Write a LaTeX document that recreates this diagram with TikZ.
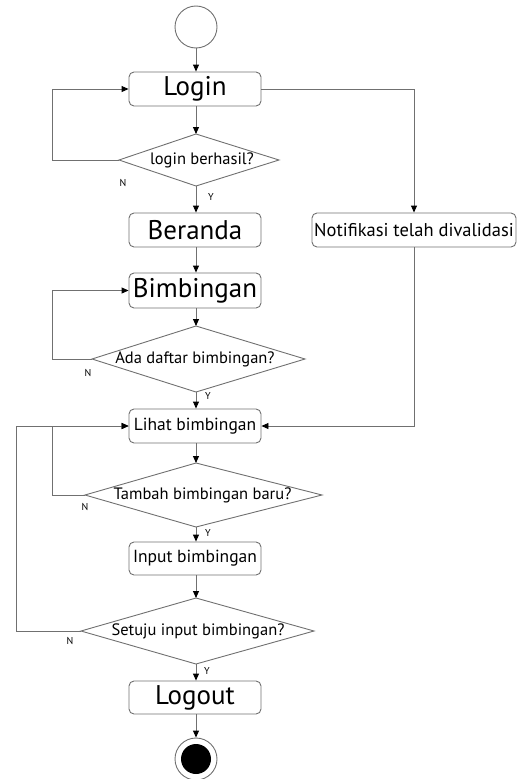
\documentclass[tikz,border=0pt]{standalone}
\usepackage{fontspec}
\setmainfont{PT Sans}
\usetikzlibrary{arrows.meta}
\definecolor{ln}{HTML}{707070}
\tikzset{
  box/.style={draw=ln, line width=0.9pt, rounded corners=5pt, minimum height=34pt, inner sep=1pt},
  mainbox/.style={box, minimum width=132pt},
  big/.style={font=\fontsize{27}{27}\selectfont},
  mid/.style={font=\fontsize{17.5}{17.5}\selectfont},
  dtext/.style={font=\fontsize{16.5}{16.5}\selectfont, inner sep=0pt},
  yn/.style={font=\fontsize{10}{10}\selectfont, inner sep=0pt},
  dia/.style={draw=ln, line width=0.9pt, line join=miter},
  conn/.style={draw=ln, line width=0.9pt, -{Triangle[length=7pt,width=6pt,color=black]}}
}
\begin{document}
\begin{tikzpicture}[x=1pt,y=-1pt]
\useasboundingbox (0,0) rectangle (527,779);
% start
\node[draw=ln, line width=0.9pt, circle, minimum size=42pt, inner sep=0pt] (start) at (196,27) {};
% boxes
\node[mainbox, big] (login) at (195,89) {Login};
\node[mainbox, big] (beranda) at (195,230) {Beranda};
\node[box, font=\fontsize{18.5}{18.5}\selectfont, minimum width=204pt] (notif) at (414,230) {Notifikasi telah divalidasi};
\node[mainbox, big, minimum height=35pt] (bimb) at (195,290.5) {Bimbingan};
\node[mainbox, mid] (lihat) at (195,426) {Lihat bimbingan};
\node[mainbox, mid, minimum height=33pt] (input) at (195,558.5) {Input bimbingan};
\node[mainbox, big, minimum height=33pt] (logout) at (195,697.5) {Logout};
% end
\node[draw=ln, line width=0.9pt, circle, minimum size=42pt, inner sep=0pt] (endo) at (196,759) {};
\node[fill=black, circle, minimum size=30pt, inner sep=0pt] (endi) at (196,759) {};
% diamonds
\coordinate (d1t) at (196,134); \coordinate (d1l) at (119,160); \coordinate (d1r) at (279,160); \coordinate (d1b) at (196,186);
\draw[dia] (d1t) -- (d1r) -- (d1b) -- (d1l) -- cycle;
\node[dtext] (d1) at (202,160) {login berhasil?};
\coordinate (d2t) at (196,326); \coordinate (d2l) at (92,359); \coordinate (d2r) at (305,359); \coordinate (d2b) at (196,392);
\draw[dia] (d2t) -- (d2r) -- (d2b) -- (d2l) -- cycle;
\node[dtext] (d2) at (195,359) {Ada daftar bimbingan?};
\coordinate (d3t) at (196,463); \coordinate (d3l) at (85,495); \coordinate (d3r) at (322,495); \coordinate (d3b) at (196,527);
\draw[dia] (d3t) -- (d3r) -- (d3b) -- (d3l) -- cycle;
\node[dtext] (d3) at (202.5,495) {Tambah bimbingan baru?};
\coordinate (d4t) at (196,598); \coordinate (d4l) at (81,631); \coordinate (d4r) at (314,631); \coordinate (d4b) at (196,664);
\draw[dia] (d4t) -- (d4r) -- (d4b) -- (d4l) -- cycle;
\node[dtext] (d4) at (198,631) {Setuju input bimbingan?};
% Y/N labels
\node[yn] (n1) at (123,183) {N}; \node[yn] (y1) at (211,197) {Y};
\node[yn] (n2) at (88,373) {N}; \node[yn] (y2) at (208,396) {Y};
\node[yn] (n3) at (85,507) {N}; \node[yn] (y3) at (208,533) {Y};
\node[yn] (n4) at (70,641) {N}; \node[yn] (y4) at (207,671) {Y};
% loop corners
\coordinate (c1) at (52,160); \coordinate (c2) at (52,359); \coordinate (c3) at (52,495); \coordinate (c4) at (16,631);
% connectors
\draw[conn] (start.south) -- (start.south |- login.north);
\draw[conn] (login.south -| d1t) -- (d1t);
\draw[conn] (d1b) -- (d1b |- beranda.north);
\draw[conn] (beranda.south -| d1t) -- (d1t |- bimb.north);
\draw[conn] (bimb.south -| d2t) -- (d2t);
\draw[conn] (d2b) -- (d2b |- lihat.north);
\draw[conn] (lihat.south -| d3t) -- (d3t);
\draw[conn] (d3b) -- (d3b |- input.north);
\draw[conn] (input.south -| d4t) -- (d4t);
\draw[conn] (d4b) -- (d4b |- logout.north);
\draw[conn] (logout.south -| endo) -- (endo.north);
\draw[conn] (login.east) -| (notif.north);
\draw[conn] (notif.south) |- (lihat.east);
\draw[conn] (d1l) -- (c1) |- (login.west);
\draw[conn] (d2l) -- (c2) |- (bimb.west);
\draw[conn] (d3l) -- (c3) |- (lihat.west);
\draw[conn] (d4l) -- (c4) |- (lihat.west);
\end{tikzpicture}
\end{document}
